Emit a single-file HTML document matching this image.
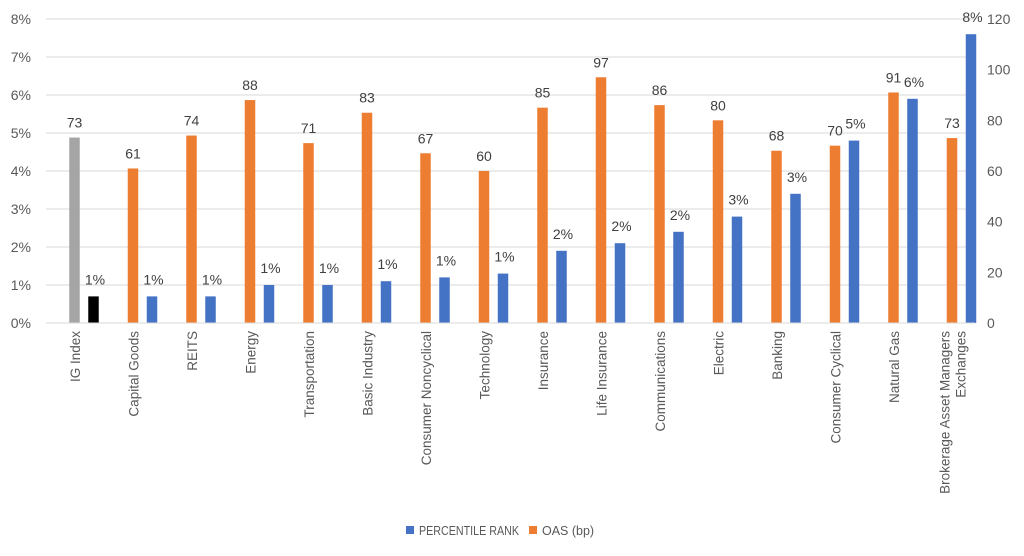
<!DOCTYPE html>
<html><head><meta charset="utf-8"><style>
body{margin:0;background:#fff;}
svg{display:block;font-family:"Liberation Sans",sans-serif;}
</style></head><body>
<svg id="chart" width="1024" height="556"></svg>
<script>
const categories=["IG Index","Capital Goods","REITS","Energy","Transportation","Basic Industry","Consumer Noncyclical","Technology","Insurance","Life Insurance","Communications","Electric","Banking","Consumer Cyclical","Natural Gas","Brokerage Asset Managers|Exchanges"];
const percentileRank=[0.7,0.7,0.7,1.0,1.0,1.1,1.2,1.3,1.9,2.1,2.4,2.8,3.4,4.8,5.9,7.6];
const oas=[73,61,74,88,71,83,67,60,85,97,86,80,68,70,91,73];
const igBarPct=4.88;
const leftTicks=[0,1,2,3,4,5,6,7,8];
const rightTicks=[0,20,40,60,80,100,120];

const NS="http://www.w3.org/2000/svg";
const svg=document.getElementById('chart');
const y0=323,yTop=19;
const yL=v=>y0-(v/8)*(y0-yTop);
const yR=v=>y0-(v/120)*(y0-yTop);
const cx=i=>84+i*58.5;
function mk(t,a,txt){const e=document.createElementNS(NS,t);for(const k in a)e.setAttribute(k,a[k]);if(txt!==undefined)e.textContent=txt;svg.appendChild(e);return e;}
leftTicks.forEach(t=>{
 const g=mk('line',{x1:46,x2:975,y1:yL(t),y2:yL(t),stroke:'#d9d9d9','stroke-width':1});
 
 const l=mk('text',{x:31,y:yL(t)+5,'text-anchor':'end','font-size':14,fill:'#595959'},t+'%');
 
});
rightTicks.forEach(t=>{
 const l=mk('text',{x:987,y:yR(t)+5,'text-anchor':'start','font-size':14,fill:'#595959'},t);
 
});
const bw=10.5;
categories.forEach((c,i)=>{
 const x=cx(i);
 let top=i===0?yL(igBarPct):yR(oas[i]);
 const ob=mk('rect',{x:x-9.5-bw/2,y:top,width:bw,height:y0-top,fill:i===0?'#a5a5a5':'#ed7d31'});
 
 const ol=mk('text',{x:x-9.5,y:top-10,'text-anchor':'middle','font-size':14,fill:'#404040'},oas[i]);
 
 const pt=yL(percentileRank[i]);
 const pb=mk('rect',{x:x+9.5-bw/2,y:pt,width:bw,height:y0-pt,fill:i===0?'#000':'#4472c4'});
 
 const pl=mk('text',{x:x+11,y:pt-12,'text-anchor':'middle','font-size':14,fill:'#404040'},Math.round(percentileRank[i])+'%');
 
 const parts=c.split('|');
 parts.forEach((p,k)=>{
  const tx=x-4+(k-(parts.length-1)/2)*16;
  const t=mk('text',{x:tx,y:331,'text-anchor':'end','font-size':13.5,fill:'#595959',transform:`rotate(-90 ${tx} 331)`},p);
  
 });
});
const ax=mk('line',{x1:46,x2:975,y1:y0,y2:y0,stroke:'#d9d9d9'});

const s1=mk('rect',{x:406,y:526,width:8,height:8,fill:'#4472c4'});

const t1=mk('text',{x:419,y:535,'font-size':12.5,fill:'#595959',textLength:100,lengthAdjust:'spacingAndGlyphs'},'PERCENTILE RANK');

const s2=mk('rect',{x:529,y:526,width:8,height:8,fill:'#ed7d31'});

const t2=mk('text',{x:542,y:535,'font-size':12.5,fill:'#595959'},'OAS (bp)');

</script>
</body></html>
